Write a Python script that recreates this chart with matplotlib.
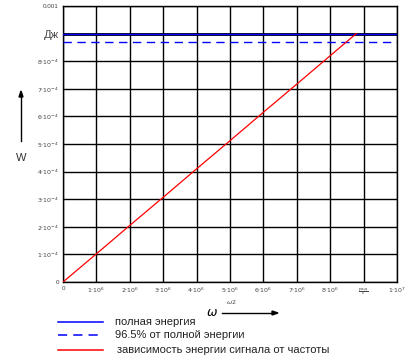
import matplotlib
matplotlib.use('Agg')
import matplotlib.pyplot as plt
from matplotlib.lines import Line2D

plt.rcParams['font.family'] = ['Liberation Sans', 'DejaVu Sans']
plt.rcParams['mathtext.fontset'] = 'dejavusans'

# --- data ---
omega = [0, 1e6, 2e6, 3e6, 4e6, 5e6, 6e6, 7e6, 8e6, 8.78e6]
energy = [0, 1.02e-4, 2.05e-4, 3.07e-4, 4.10e-4, 5.12e-4, 6.15e-4, 7.17e-4, 8.20e-4, 9.0e-4]
W_total = 9.0e-4
fraction = 0.965

x_ticks = [0, 1e6, 2e6, 3e6, 4e6, 5e6, 6e6, 7e6, 8e6, 9e6, 1e7]
x_labels = ['0', r'$1{\cdot}10^6$', r'$2{\cdot}10^6$', r'$3{\cdot}10^6$', r'$4{\cdot}10^6$',
            r'$5{\cdot}10^6$', r'$6{\cdot}10^6$', r'$7{\cdot}10^6$', r'$8{\cdot}10^6$',
            r'$\frac{\mathrm{рад}}{\mathrm{с}}$', r'$1{\cdot}10^7$']
y_ticks = [0, 1e-4, 2e-4, 3e-4, 4e-4, 5e-4, 6e-4, 7e-4, 8e-4, 9e-4, 1e-3]
y_labels = ['0', r'$1{\cdot}10^{-4}$', r'$2{\cdot}10^{-4}$', r'$3{\cdot}10^{-4}$', r'$4{\cdot}10^{-4}$',
            r'$5{\cdot}10^{-4}$', r'$6{\cdot}10^{-4}$', r'$7{\cdot}10^{-4}$', r'$8{\cdot}10^{-4}$',
            'Дж', '0.001']
legend_labels = ['полная энергия', '96.5% от полной энергии',
                 'зависимость энергии сигнала от частоты']

fig = plt.figure(figsize=(4.08, 3.61), dpi=100)
ax = fig.add_axes([63 / 408, 1 - 282 / 361, 334 / 408, 276 / 361])

ax.set_xlim(0, 1e7)
ax.set_ylim(0, 1e-3)
ax.set_xticks(x_ticks)
ax.set_xticklabels(x_labels, fontsize=4.5, color='#444444')
ax.set_yticks(y_ticks)
ax.set_yticklabels(y_labels, fontsize=4.5, color='#444444')
ax.tick_params(length=0, pad=3)
for lbl in ax.get_yticklabels():
    if lbl.get_text() == 'Дж':
        lbl.set_fontsize(8)

ax.grid(True, color='black', lw=1.0)
for s in ax.spines.values():
    s.set_color('black')
    s.set_linewidth(1.0)

ax.axhline(W_total, color='black', lw=2.0, zorder=2)
ax.axhline(W_total, color='#0000ff', lw=1.0, zorder=3)
ax.axhline(W_total * fraction, color='#0000ff', lw=1.0, ls=(0, (6, 4)), zorder=3)
ax.plot(omega, energy, color='red', lw=0.9, zorder=4)

# marker label under the 5e6 tick
fig.text(231 / 408, 1 - 302 / 361, r'$\omega2$', fontsize=4.5, color='#444444',
         ha='center', va='center')

# axis names with arrows (Mathcad style)
fig.text(212 / 408, 1 - 313 / 361, r'$\omega$', fontsize=9, ha='center', va='center')
fig.add_artist(plt.Line2D([222 / 408, 272 / 408], [1 - 313 / 361] * 2,
                          color='black', lw=1))
fig.add_artist(plt.Polygon([[272 / 408, 1 - 311 / 361], [278 / 408, 1 - 313 / 361],
                            [272 / 408, 1 - 315 / 361]], color='black'))
fig.text(21 / 408, 1 - 158 / 361, 'W', fontsize=8, ha='center', va='center', color='#333333')
fig.add_artist(plt.Line2D([21 / 408] * 2, [1 - 141 / 361, 1 - 96 / 361],
                          color='black', lw=1))
fig.add_artist(plt.Polygon([[19 / 408, 1 - 97 / 361], [21 / 408, 1 - 91 / 361],
                            [23 / 408, 1 - 97 / 361]], color='black'))

# legend drawn by hand below the plot
rows_y = [322, 335, 350]
text_x = [115, 115, 117]
styles = [dict(color='#0000ff', ls='-'), dict(color='#0000ff', ls=(0, (6, 4))),
          dict(color='red', ls='-')]
for yy, tx, st, txt in zip(rows_y, text_x, styles, legend_labels):
    y = 1 - yy / 361
    fig.add_artist(Line2D([58 / 408, 103 / 408], [y, y], lw=1.1, **st))
    fig.text(tx / 408, y, txt, fontsize=8, va='center', ha='left', color='#222222')

fig.savefig('out.png', dpi=100)
